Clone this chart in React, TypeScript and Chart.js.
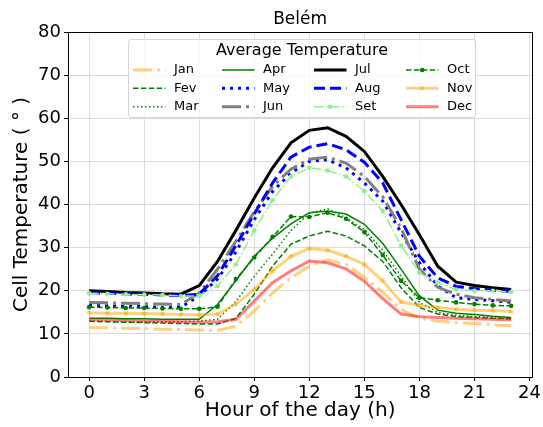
import React, { useEffect, useRef } from "react";
import { Chart, registerables } from "chart.js";
Chart.register(...registerables);

const hours = [0, 1, 2, 3, 4, 5, 6, 7, 8, 9, 10, 11, 12, 13, 14, 15, 16, 17, 18, 19, 20, 21, 22, 23];
const xTicks = [0, 3, 6, 9, 12, 15, 18, 21, 24];
const yTicks = [0, 10, 20, 30, 40, 50, 60, 70, 80];
const monthNames = ["Jan", "Fev", "Mar", "Apr", "May", "Jun", "Jul", "Aug", "Set", "Oct", "Nov", "Dec"];

const jan = [11.5, 11.4, 11.3, 11.2, 11.1, 11.0, 10.9, 10.8, 11.8, 15.3, 19.5, 23.0, 25.7, 27.2, 26.1, 23.2, 19.6, 15.7, 13.6, 13.0, 12.6, 12.4, 12.1, 11.9];
const fev = [12.9, 12.8, 12.7, 12.6, 12.5, 12.4, 12.3, 12.3, 13.6, 19.2, 25.7, 30.8, 32.7, 33.8, 32.7, 30.4, 26.8, 20.7, 16.1, 14.6, 14.0, 13.8, 13.6, 13.5];
const mar = [12.9, 12.9, 12.8, 12.8, 12.8, 12.8, 13.0, 13.4, 17.5, 23.4, 28.5, 34.0, 38.0, 39.0, 36.9, 34.2, 29.4, 23.4, 17.3, 15.0, 14.3, 14.0, 13.8, 13.6];
const apr = [13.6, 13.6, 13.5, 13.5, 13.4, 13.4, 13.4, 16.8, 22.3, 28.0, 32.2, 35.5, 38.1, 38.5, 37.8, 35.4, 31.0, 25.0, 18.8, 15.5, 14.8, 14.5, 14.1, 13.8];
const may = [16.6, 16.5, 16.4, 16.3, 16.2, 16.2, 18.8, 22.7, 29.0, 36.5, 43.0, 47.3, 50.0, 50.4, 48.5, 45.0, 40.8, 33.5, 26.5, 21.1, 18.4, 18.0, 17.7, 17.3];
const jun = [17.3, 17.2, 17.1, 17.0, 16.9, 16.8, 19.5, 25.0, 31.5, 38.3, 44.2, 48.2, 50.5, 51.0, 49.6, 46.5, 41.8, 34.5, 25.0, 20.8, 19.2, 18.4, 18.0, 17.6];
const jul = [20.0, 19.8, 19.6, 19.5, 19.3, 19.2, 21.2, 26.8, 34.0, 41.5, 48.5, 54.3, 57.2, 57.8, 55.8, 52.3, 46.5, 40.0, 33.0, 25.7, 22.0, 21.2, 20.7, 20.3];
const aug = [19.6, 19.4, 19.3, 19.2, 19.0, 18.9, 19.2, 23.5, 30.5, 37.8, 45.0, 51.0, 53.3, 54.1, 52.7, 49.8, 45.0, 36.5, 28.0, 23.0, 21.0, 20.5, 20.1, 19.9];
const set = [19.4, 19.3, 19.2, 19.1, 19.0, 18.8, 18.8, 21.1, 26.1, 34.0, 41.0, 46.5, 48.5, 47.9, 46.5, 43.1, 38.5, 30.5, 24.2, 21.9, 20.3, 20.0, 20.0, 19.7];
const oct = [16.2, 16.1, 16.0, 16.0, 15.9, 15.8, 15.8, 16.3, 22.7, 27.7, 32.5, 37.2, 37.1, 38.1, 36.7, 33.6, 28.3, 22.3, 18.4, 17.8, 17.3, 16.9, 16.6, 16.5];
const nov = [14.9, 14.8, 14.8, 14.7, 14.6, 14.5, 14.4, 14.6, 16.9, 20.3, 24.6, 28.0, 29.8, 29.4, 28.0, 26.1, 22.3, 17.4, 16.6, 16.1, 15.7, 15.5, 15.4, 15.2];
const dec = [13.3, 13.2, 13.1, 13.0, 12.9, 12.8, 12.7, 12.8, 13.4, 17.6, 21.9, 24.6, 26.9, 26.5, 25.1, 22.2, 18.2, 14.6, 14.0, 13.8, 13.6, 13.5, 13.4, 13.3];

const series = [jan, fev, mar, apr, may, jun, jul, aug, set, oct, nov, dec];

type LineStyle = { color: string; width: number; dash: number[]; point: number };
const styles: LineStyle[] = [
  { color: "rgba(255,165,0,0.5)", width: 3, dash: [19, 5, 3, 5], point: 0 },
  { color: "#008000", width: 1.5, dash: [5.5, 2.4], point: 0 },
  { color: "#008000", width: 1.5, dash: [1.5, 2.5], point: 0 },
  { color: "#008000", width: 1.5, dash: [], point: 0 },
  { color: "#0000ff", width: 3, dash: [3, 5], point: 0 },
  { color: "#808080", width: 3, dash: [19, 5, 3, 5], point: 0 },
  { color: "#000000", width: 3, dash: [], point: 0 },
  { color: "#0000ff", width: 3, dash: [11, 5], point: 0 },
  { color: "#90ee90", width: 1.5, dash: [9.6, 2.4, 1.5, 2.4], point: 2.3 },
  { color: "#008000", width: 1.5, dash: [5.5, 2.4], point: 2.3 },
  { color: "rgba(255,165,0,0.5)", width: 3, dash: [], point: 2.3 },
  { color: "rgba(255,0,0,0.5)", width: 3, dash: [], point: 0 },
];

const FONT = "'DejaVu Sans', sans-serif";

const decorPlugin = {
  id: "decor",
  afterDraw(chart: any) {
    const ctx = chart.ctx as CanvasRenderingContext2D;
    const a = chart.chartArea;
    ctx.save();
    ctx.strokeStyle = "#000";
    ctx.lineWidth = 1;
    ctx.setLineDash([]);
    ctx.strokeRect(Math.round(a.left) + 0.5, Math.round(a.top) + 0.5, Math.round(a.right - a.left), Math.round(a.bottom - a.top));
    ctx.fillStyle = "#000";
    ctx.font = `17px ${FONT}`;
    ctx.textAlign = "center";
    ctx.textBaseline = "middle";
    ctx.fillText("Belém", (a.left + a.right) / 2, 20);

    const x0 = 128.5, y0 = 39.5, w = 347, h = 78, r = 3;
    ctx.beginPath();
    ctx.moveTo(x0 + r, y0);
    ctx.lineTo(x0 + w - r, y0);
    ctx.arcTo(x0 + w, y0, x0 + w, y0 + r, r);
    ctx.lineTo(x0 + w, y0 + h - r);
    ctx.arcTo(x0 + w, y0 + h, x0 + w - r, y0 + h, r);
    ctx.lineTo(x0 + r, y0 + h);
    ctx.arcTo(x0, y0 + h, x0, y0 + h - r, r);
    ctx.lineTo(x0, y0 + r);
    ctx.arcTo(x0, y0, x0 + r, y0, r);
    ctx.closePath();
    ctx.fillStyle = "rgba(255,255,255,0.8)";
    ctx.fill();
    ctx.strokeStyle = "rgba(204,204,204,0.8)";
    ctx.stroke();

    ctx.fillStyle = "#000";
    ctx.font = `16px ${FONT}`;
    ctx.textAlign = "center";
    ctx.fillText("Average Temperature", x0 + w / 2, 51);

    const colX = [133, 222, 314, 406];
    const rowY = [70, 88.3, 106.7];
    const handleLen = 32.5;
    chart.data.datasets.forEach((ds: any, i: number) => {
      const col = Math.floor(i / 3);
      const row = i % 3;
      const hx = colX[col];
      const hy = rowY[row];
      ctx.strokeStyle = ds.borderColor;
      ctx.lineWidth = ds.borderWidth;
      ctx.setLineDash(ds.borderDash || []);
      ctx.lineCap = "butt";
      ctx.beginPath();
      ctx.moveTo(hx, hy);
      ctx.lineTo(hx + handleLen, hy);
      ctx.stroke();
      ctx.setLineDash([]);
      if (ds.pointRadius > 0) {
        ctx.fillStyle = ds.pointBackgroundColor;
        ctx.beginPath();
        ctx.arc(hx + handleLen / 2, hy, ds.pointRadius, 0, Math.PI * 2);
        ctx.fill();
      }
      ctx.fillStyle = "#000";
      ctx.font = `13px ${FONT}`;
      ctx.textAlign = "left";
      ctx.textBaseline = "middle";
      ctx.fillText(ds.label, hx + 41, hy);
    });
    ctx.restore();
  },
};

export default function App() {
  const ref = useRef<HTMLCanvasElement | null>(null);
  useEffect(() => {
    document.body.style.margin = "0";
    const canvas = ref.current;
    if (!canvas) return;
    const datasets = series.map((vals, i) => {
      const s = styles[i];
      return {
        label: monthNames[i],
        data: hours.map((hr, j) => ({ x: hr, y: vals[j] })),
        borderColor: s.color,
        backgroundColor: s.color,
        borderWidth: s.width,
        borderDash: s.dash,
        borderCapStyle: "butt" as const,
        pointRadius: s.point,
        pointBackgroundColor: s.color,
        pointBorderWidth: 0,
        pointHoverRadius: s.point,
        tension: 0,
        fill: false,
        order: 12 - i,
      };
    });
    const chart = new Chart(canvas, {
      type: "line",
      data: { datasets },
      options: {
        animation: false,
        responsive: false,
        devicePixelRatio: 1,
        layout: { padding: { top: 32, right: 8, left: 0, bottom: 0 } },
        plugins: {
          legend: { display: false },
          title: { display: false },
          tooltip: { enabled: false },
        },
        scales: {
          x: {
            type: "linear",
            min: -1.15,
            max: 24.15,
            afterFit: (s: any) => { s.height = 50; },
            afterBuildTicks: (s: any) => { s.ticks = xTicks.map((v) => ({ value: v })); },
            ticks: { font: { family: FONT, size: 18 }, color: "#000", padding: 2, maxRotation: 0 },
            grid: { color: "#dcdcdc", tickColor: "#000", tickLength: 4 },
            border: { color: "#000", width: 1 },
            title: {
              display: true,
              text: "Hour of the day (h)",
              font: { family: FONT, size: 20 },
              color: "#000",
              padding: { top: 0, bottom: 4 },
            },
          },
          y: {
            type: "linear",
            min: 0,
            max: 80,
            afterFit: (s: any) => { s.width = 68; },
            afterBuildTicks: (s: any) => { s.ticks = yTicks.map((v) => ({ value: v })); },
            ticks: { font: { family: FONT, size: 18 }, color: "#000", padding: 3 },
            grid: { color: "#dcdcdc", tickColor: "#000", tickLength: 4 },
            border: { color: "#000", width: 1 },
            title: {
              display: true,
              text: "Cell Temperature ( ° )",
              font: { family: FONT, size: 20 },
              color: "#000",
              padding: { top: 10, bottom: 0 },
            },
          },
        },
      },
      plugins: [decorPlugin],
    });
    return () => chart.destroy();
  }, []);
  return <canvas ref={ref} width={543} height={427} style={{ display: "block" }} />;
}
